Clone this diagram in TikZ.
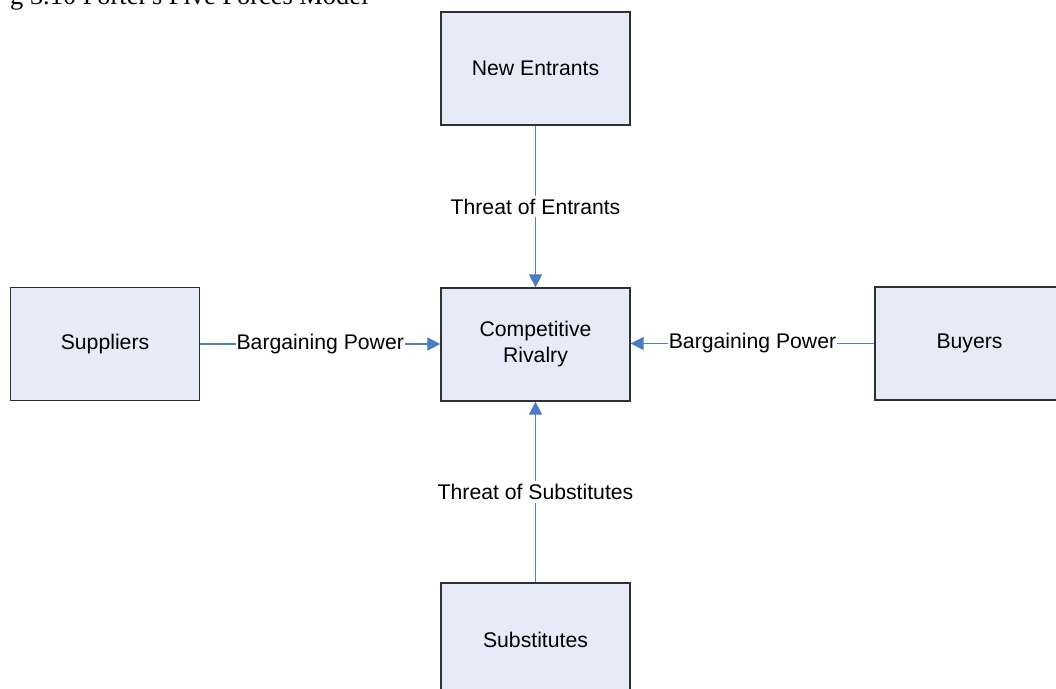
\documentclass[tikz,border=0pt]{standalone}
\usepackage{fontspec}
\setmainfont{Liberation Sans}
\newfontfamily\titlefont{Liberation Serif}
\usetikzlibrary{arrows.meta}

\definecolor{boxfill}{HTML}{E6ECF7}
\definecolor{boxline}{HTML}{303030}
\definecolor{linkline}{HTML}{4F81BD}
\definecolor{tipfill}{HTML}{4A7CC4}

\tikzset{
  forcebox/.style={draw=boxline, line width=1.2pt, fill=boxfill,
    minimum width=189pt, minimum height=113pt, inner sep=0pt,
    font=\fontsize{21.2}{26}\selectfont, align=center},
  forcelink/.style={draw=linkline, line width=1.1pt,
    -{Triangle[length=13pt,width=13pt,fill=tipfill,color=tipfill]}},
  forcelabel/.style={fill=white, inner xsep=1pt, inner ysep=3pt,
    font=\fontsize{21.2}{26}\selectfont}
}

\begin{document}
\begin{tikzpicture}[x=1pt,y=-1pt]
  \useasboundingbox (0,0) rectangle (1056,688);
  \clip (0,0) rectangle (1056,688);

  % caption line, partly outside the frame
  \node[anchor=base west, inner sep=0pt, font=\titlefont\fontsize{26.4}{30}\selectfont]
    (caption) at (10,5) {g 3.10 Porter's Five Forces Model};

  % the five forces
  \node[forcebox] (entrants)    at (535.5,68.5)  {New Entrants};
  \node[forcebox] (rivalry)     at (535.5,344.5) {Competitive\\Rivalry};
  \node[forcebox] (suppliers)   at (105,344)     {Suppliers};
  \node[forcebox] (buyers)      at (969.5,343.5) {Buyers};
  \node[forcebox] (substitutes) at (535.5,639.5) {Substitutes};

  % pressures on the industry
  \draw[forcelink] (entrants.south) -- node[forcelabel] {Threat of Entrants} (rivalry.north);
  \draw[forcelink] (substitutes.north) -- node[forcelabel] {Threat of Substitutes} (rivalry.south);
  \draw[forcelink] (suppliers.east) -- node[forcelabel] {Bargaining Power} (suppliers.east -| rivalry.west);
  \draw[forcelink] (buyers.west) -- node[forcelabel] {Bargaining Power} (buyers.west -| rivalry.east);
\end{tikzpicture}
\end{document}
